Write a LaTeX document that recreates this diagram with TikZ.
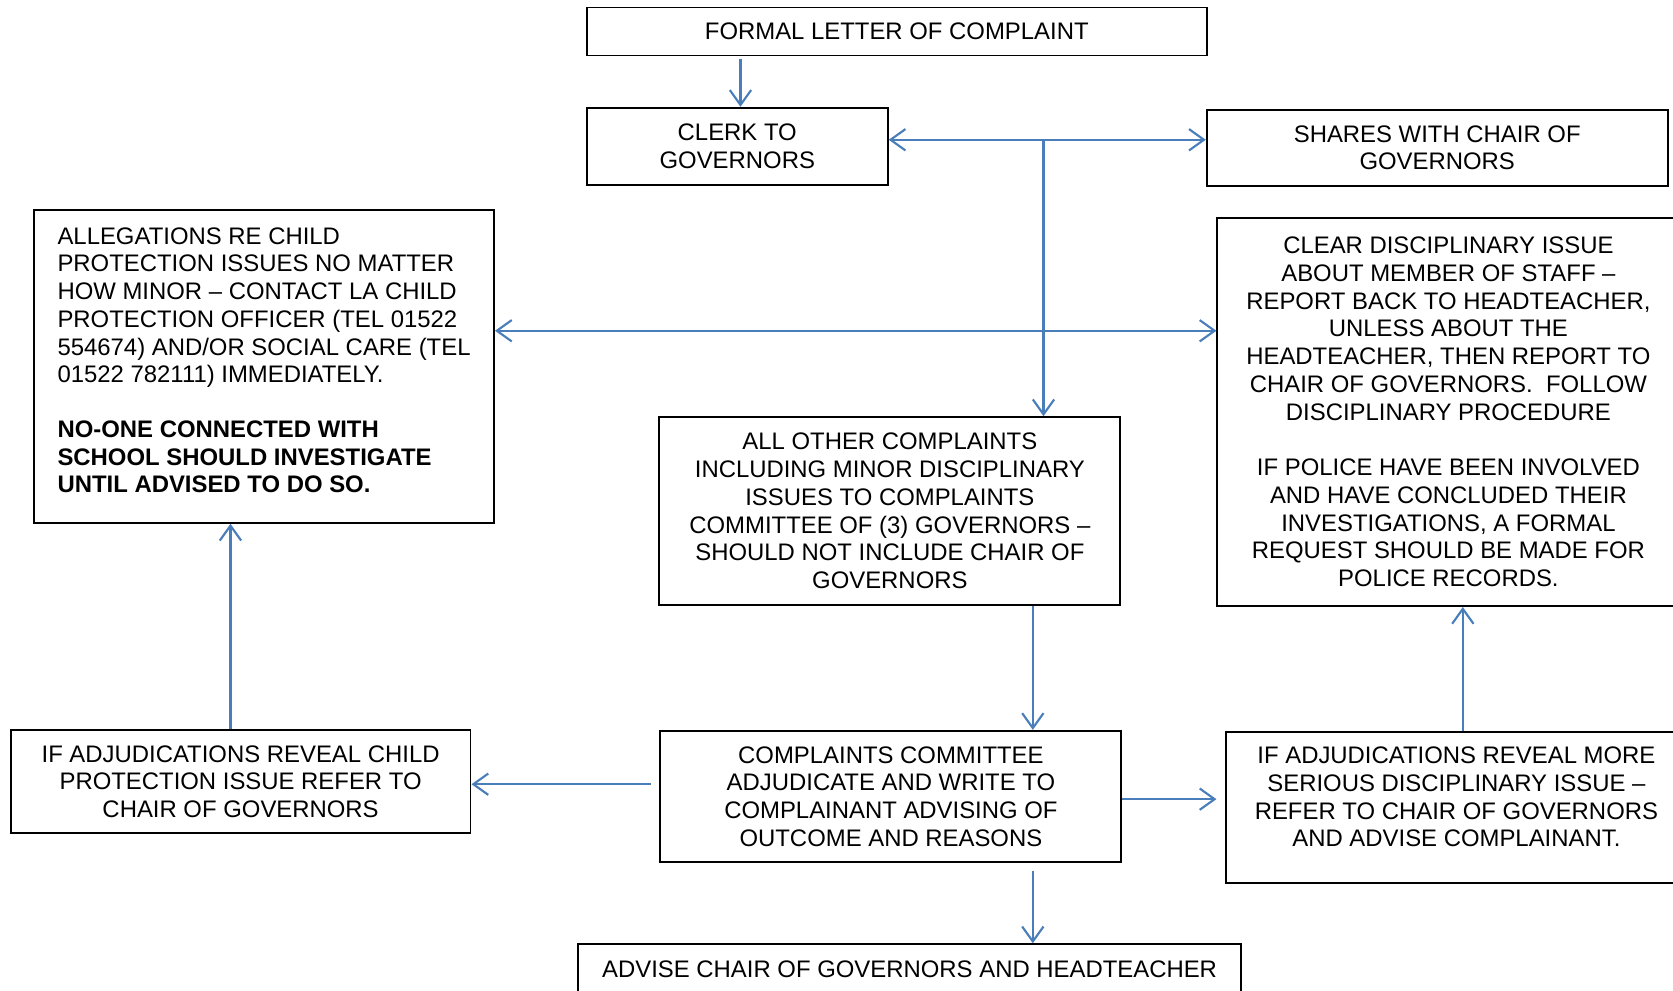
\documentclass[tikz,border=0pt]{standalone}
\usepackage{fontspec}
\setmainfont{Liberation Sans}
\usetikzlibrary{arrows.meta}
\definecolor{arrowblue}{HTML}{4A7EBB}
\begin{document}
\begin{tikzpicture}[x=1pt,y=-1pt,
  box/.style={draw=black, line width=1.8pt, inner sep=0pt, align=center,
    font=\fontsize{22.4}{26}\selectfont},
  conn/.style={draw=arrowblue, line width=2pt, -{Straight Barb[length=14pt,width=20pt]}},
  both/.style={draw=arrowblue, line width=2pt, {Straight Barb[length=14pt,width=20pt]}-{Straight Barb[length=14pt,width=20pt]}}]
\clip (0,0) rectangle (1568,928);
\fill[white] (0,0) rectangle (1568,928);

\node[box, minimum width=581pt, minimum height=45pt] (formal) at (840.5,29.5) {FORMAL LETTER OF COMPLAINT};
\node[box, minimum width=282pt, minimum height=72pt] (clerk) at (691,137) {CLERK TO\\GOVERNORS};
\node[box, minimum width=432pt, minimum height=71pt] (shares) at (1347,138.5) {SHARES WITH CHAIR OF\\GOVERNORS};
\node[box, minimum width=431pt, minimum height=293pt, align=left, text depth=12pt] (alleg) at (247.5,343.5)
  {ALLEGATIONS RE CHILD\\
   PROTECTION ISSUES NO MATTER\\
   HOW MINOR – CONTACT LA CHILD\\
   PROTECTION OFFICER (TEL 01522\\
   554674) AND/OR SOCIAL CARE (TEL\\
   01522 782111) IMMEDIATELY.\\[25pt]
   \textbf{NO-ONE CONNECTED WITH}\\
   \textbf{SCHOOL SHOULD INVESTIGATE}\\
   \textbf{UNTIL ADVISED TO DO SO.}};
\node[box, minimum width=433pt, minimum height=364pt] (clear) at (1357.5,386)
  {CLEAR DISCIPLINARY ISSUE\\ABOUT MEMBER OF STAFF –\\REPORT BACK TO HEADTEACHER,\\UNLESS ABOUT THE\\HEADTEACHER, THEN REPORT TO\\CHAIR OF GOVERNORS.\ \ FOLLOW\\DISCIPLINARY PROCEDURE\\[26pt]IF POLICE HAVE BEEN INVOLVED\\AND HAVE CONCLUDED THEIR\\INVESTIGATIONS, A FORMAL\\REQUEST SHOULD BE MADE FOR\\POLICE RECORDS.};
\node[box, minimum width=432pt, minimum height=176pt] (allother) at (834,479)
  {ALL OTHER COMPLAINTS\\INCLUDING MINOR DISCIPLINARY\\ISSUES TO COMPLAINTS\\COMMITTEE OF (3) GOVERNORS –\\SHOULD NOT INCLUDE CHAIR OF\\GOVERNORS};
\node[box, minimum width=432pt, minimum height=123pt] (committee) at (835,746.5)
  {COMPLAINTS COMMITTEE\\ADJUDICATE AND WRITE TO\\COMPLAINANT ADVISING OF\\OUTCOME AND REASONS};
\node[box, minimum width=431pt, minimum height=97pt] (ifchild) at (225.5,732.5)
  {IF ADJUDICATIONS REVEAL CHILD\\PROTECTION ISSUE REFER TO\\CHAIR OF GOVERNORS};
\node[box, minimum width=432pt, minimum height=142pt, text depth=20pt] (ifmore) at (1365,757)
  {IF ADJUDICATIONS REVEAL MORE\\SERIOUS DISCIPLINARY ISSUE –\\REFER TO CHAIR OF GOVERNORS\\AND ADVISE COMPLAINANT.};
\node[box, minimum width=621pt, minimum height=46pt] (advise) at (852.5,908)
  {ADVISE CHAIR OF GOVERNORS AND HEADTEACHER};

\coordinate (xf) at (694,80);
\coordinate (j1) at (978,131);
\coordinate (j2) at (978,310);
\coordinate (xa) at (968,600);
\coordinate (xb) at (216,600);
\coordinate (xc) at (1371,600);
\coordinate (ya) at (500,735);
\coordinate (yb) at (1100,749);

\draw[conn, shorten <=2pt] (formal.south -| xf) -- (clerk.north -| xf);
\draw[both] (clerk.east |- j1) -- (shares.west |- j1);
\draw[conn] (j1) -- (allother.north -| j1);
\draw[both] (alleg.east |- j2) -- (clear.west |- j2);
\draw[conn] (allother.south -| xa) -- (committee.north -| xa);
\draw[conn, shorten <=8pt] (committee.west |- ya) -- (ifchild.east |- ya);
\draw[conn] (ifchild.north -| xb) -- (alleg.south -| xb);
\draw[conn, shorten >=8pt] (committee.east |- yb) -- (ifmore.west |- yb);
\draw[conn] (ifmore.north -| xc) -- (clear.south -| xc);
\draw[conn, shorten <=7pt] (committee.south -| xa) -- (advise.north -| xa);
\end{tikzpicture}
\end{document}
